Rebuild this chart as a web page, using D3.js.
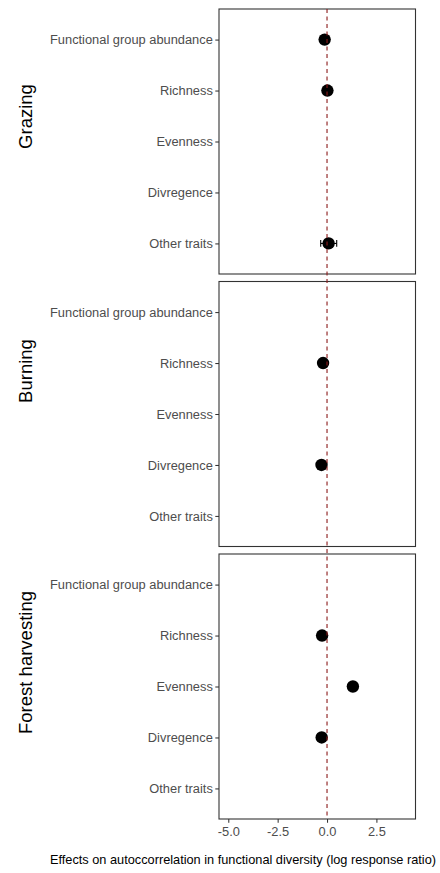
<!DOCTYPE html>
<html>
<head>
<meta charset="utf-8">
<script src="https://cdn.jsdelivr.net/npm/d3@7"></script>
<style>
  html, body { margin: 0; padding: 0; background: #fff; }
  svg { display: block; font-family: "Liberation Sans", Arial, sans-serif; }
</style>
</head>
<body>
<svg id="chart" width="440" height="873"></svg>
<script>
// Treatments (one panel each) and the functional-diversity metrics on the y axis
const treatments = ["Grazing", "Burning", "Forest harvesting"];
const metrics = ["Functional group abundance", "Richness", "Evenness", "Divregence", "Other traits"];

// Mean log response ratio per treatment / metric (null = no estimate)
const grazingValues = [-0.12, 0.02, null, null, 0.08];
const burningValues = [null, -0.20, null, -0.28, null];
const forestValues  = [null, -0.25, 1.31, -0.27, null];

// Confidence interval bounds (null = no interval drawn)
const grazingLower = [null, null, null, null, -0.32];
const grazingUpper = [null, null, null, null, 0.49];
const burningLower = [null, null, null, null, null];
const burningUpper = [null, null, null, null, null];
const forestLower  = [null, null, null, null, null];
const forestUpper  = [null, null, null, null, null];

const xTicks = [-5.0, -2.5, 0.0, 2.5];
const xDomain = [-5.47, 4.48];
const xTitle = "Effects on autoccorrelation in functional diversity (log response ratio)";

const seriesValues = [grazingValues, burningValues, forestValues];
const seriesLower = [grazingLower, burningLower, forestLower];
const seriesUpper = [grazingUpper, burningUpper, forestUpper];

const svg = d3.select("#chart");

const left = 219, right = 415.5;
const panelTop = [9, 281.5, 554];
const panelH = 265;
const labelShift = [-25, -43, -24];

const x = d3.scaleLinear().domain(xDomain).range([left, right]);

treatments.forEach((t, i) => {
  const top = panelTop[i], bottom = top + panelH;
  const y = d3.scalePoint().domain(metrics).range([top, bottom]).padding(0.6);

  const g = svg.append("g");

  // y axis: tick marks and metric names
  const yAxis = g.append("g")
    .attr("transform", `translate(${left},0)`)
    .call(d3.axisLeft(y).tickSize(3.7).tickPadding(2.5));
  yAxis.select(".domain").remove();
  yAxis.selectAll(".tick line").attr("stroke", "#333").attr("stroke-width", 1.05);
  yAxis.selectAll(".tick text")
    .attr("fill", "#4D4D4D")
    .style("font-size", "12.85px")
    .style("font-family", "'Liberation Sans', Arial, sans-serif");

  // Treatment label
  g.append("text")
    .attr("transform", `translate(32,${(top + bottom) / 2 + labelShift[i]}) rotate(-90)`)
    .attr("text-anchor", "middle")
    .attr("fill", "#000")
    .style("font-size", "18.5px")
    .text(t);

  // Estimates and intervals
  const rows = metrics.map((m, j) => ({
    metric: m,
    value: seriesValues[i][j],
    lo: seriesLower[i][j],
    hi: seriesUpper[i][j]
  }));

  const withCI = rows.filter(d => d.value !== null && d.lo !== null);
  const capH = 3.3;
  withCI.forEach(d => {
    const cy = y(d.metric);
    g.append("line").attr("x1", x(d.lo)).attr("x2", x(d.hi)).attr("y1", cy).attr("y2", cy)
      .attr("stroke", "#000").attr("stroke-width", 1.1);
    [d.lo, d.hi].forEach(v => {
      g.append("line").attr("x1", x(v)).attr("x2", x(v)).attr("y1", cy - capH).attr("y2", cy + capH)
        .attr("stroke", "#000").attr("stroke-width", 1.1);
    });
  });

  g.selectAll("circle.pt")
    .data(rows.filter(d => d.value !== null))
    .join("circle")
    .attr("class", "pt")
    .attr("cx", d => x(d.value))
    .attr("cy", d => y(d.metric))
    .attr("r", 6.2)
    .attr("fill", "#000");

  // Panel border
  g.append("rect")
    .attr("x", left).attr("y", top)
    .attr("width", right - left).attr("height", panelH)
    .attr("fill", "none").attr("stroke", "#333").attr("stroke-width", 1.1);
});

// Zero reference line running through all panels
svg.append("line")
  .attr("x1", x(0)).attr("x2", x(0))
  .attr("y1", panelTop[0]).attr("y2", panelTop[2] + panelH)
  .attr("stroke", "#8B1A1A").attr("stroke-width", 1.1)
  .attr("stroke-dasharray", "4,3.5");

// Redraw points above the reference line
svg.selectAll("circle.pt").raise();

// x axis on the bottom panel
const xAxis = svg.append("g")
  .attr("transform", `translate(0,${panelTop[2] + panelH})`)
  .call(d3.axisBottom(x).tickValues(xTicks).tickFormat(d3.format(".1f")).tickSize(3.7).tickPadding(4));
xAxis.select(".domain").remove();
xAxis.selectAll(".tick line").attr("stroke", "#333").attr("stroke-width", 1.05);
xAxis.selectAll(".tick text")
  .attr("fill", "#4D4D4D")
  .style("font-size", "12.85px")
  .style("font-family", "'Liberation Sans', Arial, sans-serif")
  .text(d => d3.format(".1f")(d).replace("−", "-"));

svg.append("text")
  .attr("x", 243)
  .attr("y", 864)
  .attr("text-anchor", "middle")
  .attr("fill", "#000")
  .style("font-size", "12.75px")
  .text(xTitle);
</script>
</body>
</html>
